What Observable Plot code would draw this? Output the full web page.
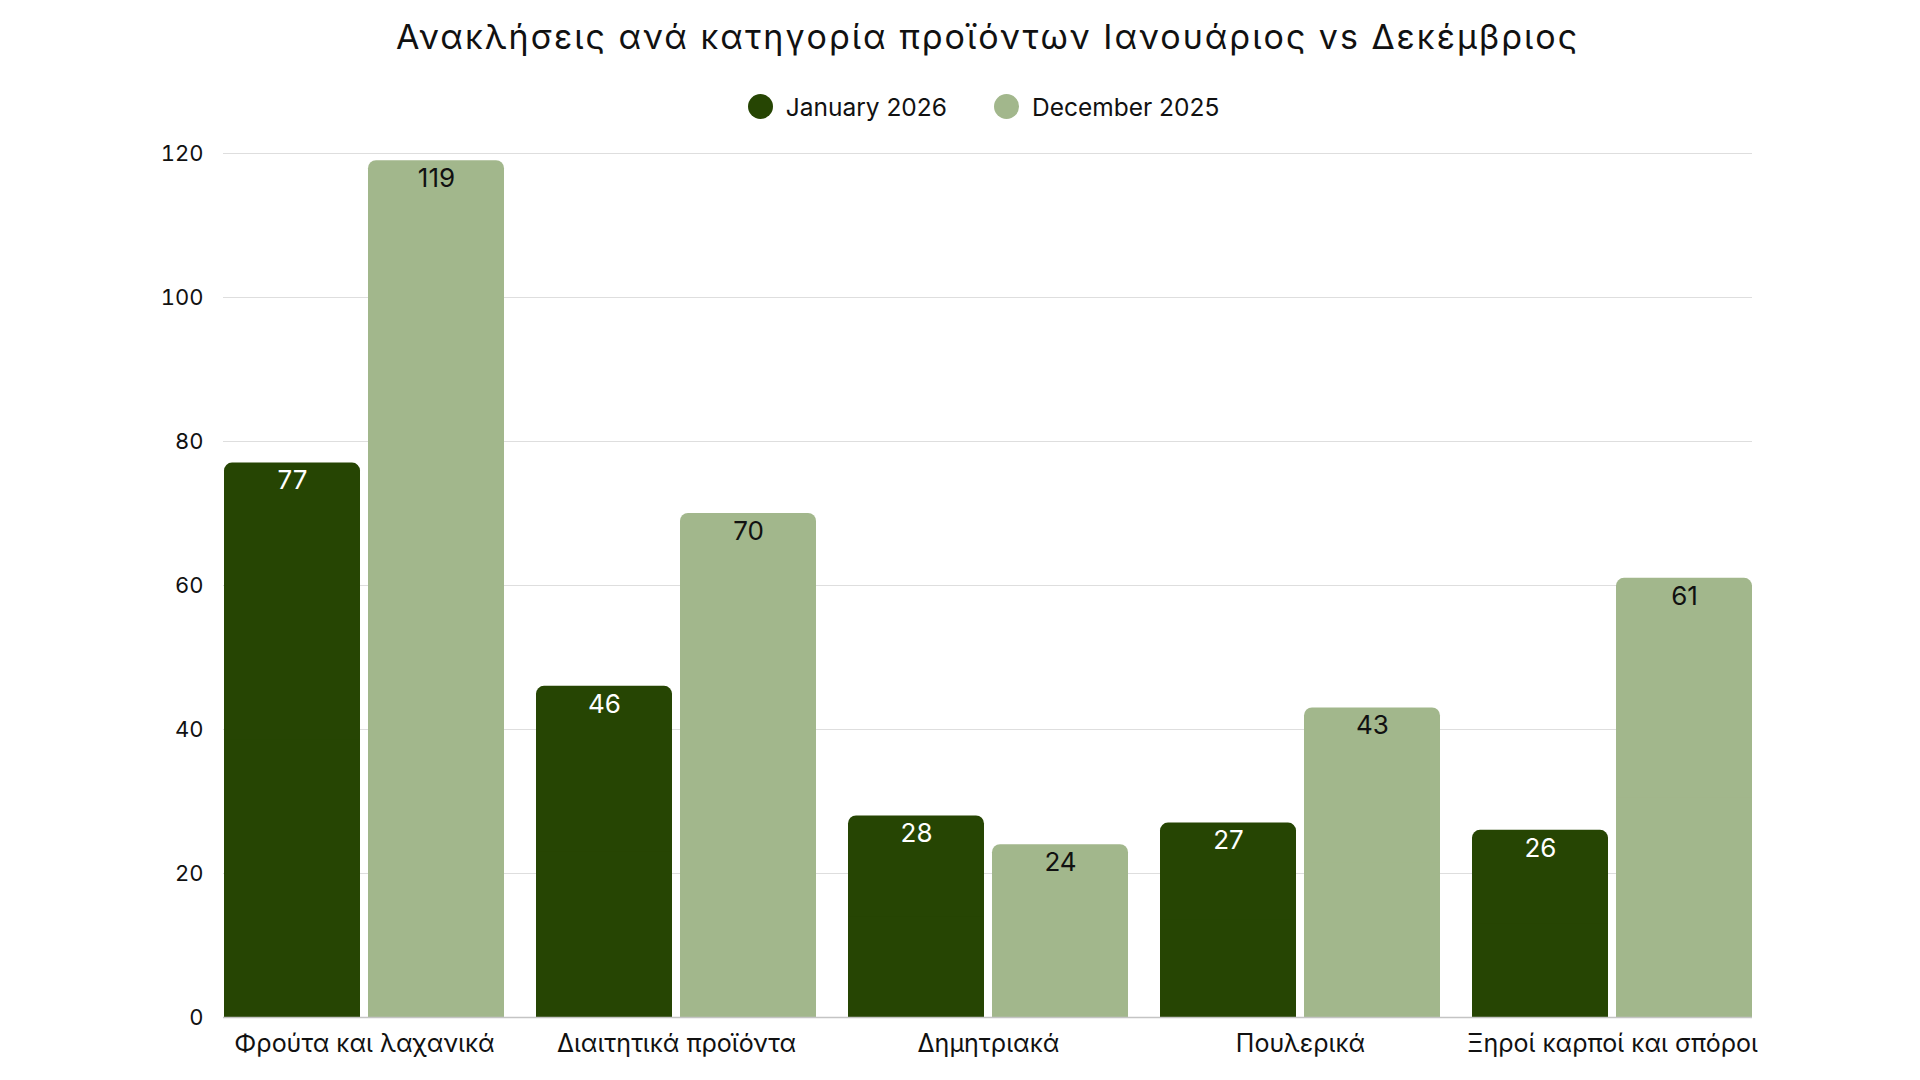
<!DOCTYPE html>
<html>
<head>
<meta charset="utf-8">
<script src="https://cdn.jsdelivr.net/npm/d3@7"></script>
<script src="https://cdn.jsdelivr.net/npm/@observablehq/plot@0.6"></script>
<style>
  html, body { margin: 0; padding: 0; background: #fff; overflow: hidden; }
  body { width: 1920px; height: 1080px; font-family: Inter, "Noto Sans", sans-serif; color: #111; }
  #title { height: 74px; line-height: 74px; text-align: center; font-size: 34px; letter-spacing: 2px; padding-left: 223px; padding-right: 168px; white-space: nowrap; }
  #legend { height: 65px; display: flex; justify-content: center; align-items: center; gap: 47px; font-size: 24.5px; padding-left: 215px; padding-right: 168px; box-sizing: border-box; width: 1920px; }
  .item { display: flex; align-items: center; }
  .sw { width: 25px; height: 25px; border-radius: 50%; margin-right: 13px; }
  #chart svg { display: block; }
</style>
</head>
<body>
<div id="title"></div>
<div id="legend"></div>
<div id="chart"></div>
<script>
const title = "Ανακλήσεις ανά κατηγορία προϊόντων Ιανουάριος vs Δεκέμβριος";
const categories = ["Φρούτα και λαχανικά", "Διαιτητικά προϊόντα", "Δημητριακά", "Πουλερικά", "Ξηροί καρποί και σπόροι"];
const series = ["January 2026", "December 2025"];
const january2026 = [77, 46, 28, 27, 26];
const december2025 = [119, 70, 24, 43, 61];
const yTicks = [0, 20, 40, 60, 80, 100, 120];
const colors = ["#264503", "#a2b78c"];
const labelColors = ["#ffffff", "#111111"];

document.getElementById("title").textContent = title;
const legend = document.getElementById("legend");
series.forEach((s, i) => {
  const it = document.createElement("div");
  it.className = "item";
  const sw = document.createElement("span");
  sw.className = "sw";
  sw.style.background = colors[i];
  const tx = document.createElement("span");
  tx.textContent = s;
  it.appendChild(sw); it.appendChild(tx);
  legend.appendChild(it);
});

const janData = categories.map((c, i) => ({category: c, series: series[0], value: january2026[i]}));
const decData = categories.map((c, i) => ({category: c, series: series[1], value: december2025[i]}));

const chart = Plot.plot({
  width: 1920,
  height: 941,
  marginTop: 14,
  marginBottom: 63,
  marginLeft: 223,
  marginRight: 168,
  style: {fontFamily: "Inter, 'Noto Sans', sans-serif", fontSize: "22px", color: "#111", background: "#fff"},
  x: {domain: categories, paddingInner: 0.1026, paddingOuter: 0, label: null},
  y: {domain: [0, 120], label: null},
  marks: [
    Plot.ruleY(yTicks.filter(t => t > 0), {stroke: "#dedede", strokeWidth: 1}),
    Plot.barY(janData, {x: "category", y: "value", fill: colors[0], insetRight: 144, rx: 8}),
    Plot.barY(janData, {x: "category", y1: 0, y2: d => d.value / 2, fill: colors[0], insetRight: 144}),
    Plot.barY(decData, {x: "category", y: "value", fill: colors[1], insetLeft: 144, rx: 8}),
    Plot.barY(decData, {x: "category", y1: 0, y2: d => d.value / 2, fill: colors[1], insetLeft: 144}),
    Plot.ruleY([0], {stroke: "#c4c4c4", strokeWidth: 1.5}),
    Plot.text(janData, {x: "category", y: "value", text: d => String(d.value), dx: -72, dy: 18, fill: labelColors[0], fontSize: 26}),
    Plot.text(decData, {x: "category", y: "value", text: d => String(d.value), dx: 72, dy: 18, fill: labelColors[1], fontSize: 26}),
    Plot.axisY({ticks: yTicks, tickSize: 0, tickPadding: 20, fontSize: 22, label: null}),
    Plot.axisX({tickSize: 0, tickPadding: 17, fontSize: 25, label: null})
  ]
});
document.getElementById("chart").appendChild(chart);
</script>
</body>
</html>
